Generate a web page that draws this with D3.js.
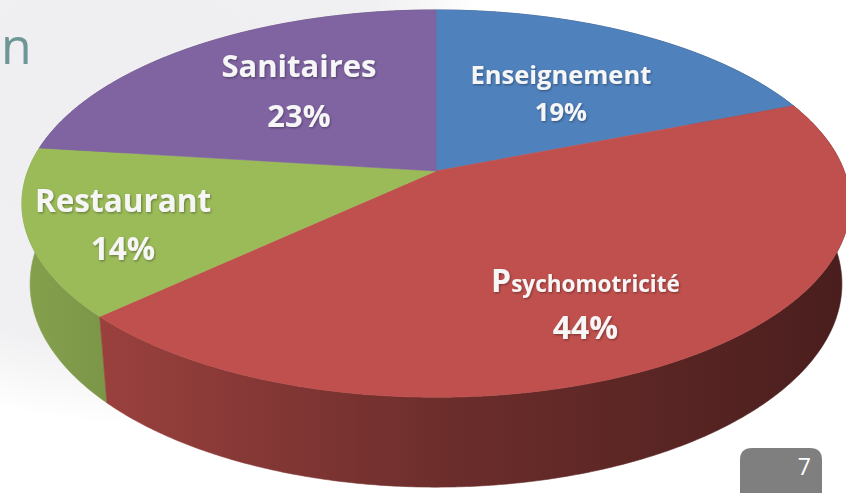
<!DOCTYPE html>
<html>
<head>
<meta charset="utf-8">
<script src="https://cdn.jsdelivr.net/npm/d3@7"></script>
<style>
  html, body { margin: 0; padding: 0; background: #fff; }
  svg { display: block; }
</style>
</head>
<body>
<svg id="chart" width="846" height="493"></svg>
<script>
(function () {
  "use strict";

  // chart data
  const categories = ["Enseignement", "Psychomotricité", "Restaurant", "Sanitaires"];
  const shares = [19, 44, 14, 23];
  const colors = ["#4F81BD", "#C0504D", "#9BBB59", "#8064A2"];
  const pageNumber = "7";

  const W = 846, H = 493;
  const svg = d3.select("#chart");
  const defs = svg.append("defs");

  // camera for the tilted disc
  const cam = { cx: 436, cy: 171, F: 2151, D: 5.27, tilt: Math.asin(0.461), thick: 0.2234 };
  const sinT = Math.sin(cam.tilt), cosT = Math.cos(cam.tilt);

  function proj(a, r, y) {
    const X = r * Math.sin(a), Z = -r * Math.cos(a);
    const depth = cam.D - (y * sinT + Z * cosT);
    return [cam.cx + cam.F * X / depth, cam.cy - cam.F * (y * cosT - Z * sinT) / depth];
  }

  // background: grey slide texture on the left
  const bgGrad = defs.append("radialGradient").attr("id", "bg-grey")
    .attr("gradientUnits", "userSpaceOnUse")
    .attr("cx", 120).attr("cy", 110).attr("r", 330)
    .attr("gradientTransform", "translate(120 110) scale(1.15 0.95) translate(-120 -110)");
  bgGrad.append("stop").attr("offset", 0).attr("stop-color", "#efeef0");
  bgGrad.append("stop").attr("offset", 0.75).attr("stop-color", "#f0eff1");
  bgGrad.append("stop").attr("offset", 1).attr("stop-color", "#ffffff");
  svg.append("rect").attr("width", W).attr("height", H).attr("fill", "#fff");
  svg.append("rect").attr("width", W).attr("height", H).attr("fill", "url(#bg-grey)");

  // partial title letter
  svg.append("text").attr("x", 1).attr("y", 64)
    .attr("font-family", "'Open Sans', sans-serif").attr("font-size", 50)
    .attr("fill", "#6e9697").text("n");

  const pie = d3.pie().sort(null).value((d) => d)(shares);
  const step = Math.PI / 360;
  function arcPts(a0, a1, y) {
    const n = Math.max(2, Math.ceil((a1 - a0) / step));
    return d3.range(n + 1).map((i) => proj(a0 + (a1 - a0) * i / n, 1, y));
  }
  const line = d3.line().curve(d3.curveLinearClosed);

  // side walls, dark gradient toward the right
  const wallStops = [[0, 0.86], [0.5, 0.57], [1, 0.38]];
  pie.forEach((p, i) => {
    const g = defs.append("linearGradient").attr("id", "wall-" + i)
      .attr("gradientUnits", "userSpaceOnUse")
      .attr("x1", 22).attr("x2", 850).attr("y1", 0).attr("y2", 0);
    const c = d3.rgb(colors[i]);
    wallStops.forEach(([o, k]) => {
      g.append("stop").attr("offset", o)
        .attr("stop-color", d3.rgb(c.r * k, c.g * k, c.b * k).formatHex());
    });
  });
  const walls = pie.map((p, i) => {
    const top = arcPts(p.startAngle, p.endAngle, 0);
    const bot = arcPts(p.startAngle, p.endAngle, -cam.thick).reverse();
    const mid = (p.startAngle + p.endAngle) / 2;
    return { i, pts: top.concat(bot), z: -Math.cos(mid) };
  }).sort((a, b) => a.z - b.z);
  svg.append("g").selectAll("path").data(walls).join("path")
    .attr("d", (d) => line(d.pts))
    .attr("fill", (d) => "url(#wall-" + d.i + ")")
    .attr("stroke", (d) => "url(#wall-" + d.i + ")")
    .attr("stroke-width", 0.6);

  // top face
  svg.append("g").selectAll("path").data(pie).join("path")
    .attr("d", (p) => line([proj(0, 0, 0)].concat(arcPts(p.startAngle, p.endAngle, 0))))
    .attr("fill", (p, i) => colors[i])
    .attr("stroke", (p, i) => colors[i])
    .attr("stroke-width", 0.6);

  // labels
  const shadow = defs.append("filter").attr("id", "tshadow")
    .attr("x", "-10%").attr("y", "-20%").attr("width", "130%").attr("height", "150%");
  shadow.append("feDropShadow").attr("dx", 1).attr("dy", 1.2).attr("stdDeviation", 0.8)
    .attr("flood-color", "#000").attr("flood-opacity", 0.35);

  const place = [
    { shift: 2.3, r: 0.553, fs: 25.5, nameDy: -9.5, pctDy: 27.5 },
    { shift: 5.0, r: 0.711, fs: 32, nameDy: -12, pctDy: 35, small: 22.5 },
    { shift: -2.2, r: 0.78, fs: 31.5, nameDy: -12.5, pctDy: 36 },
    { shift: 3.0, r: 0.582, fs: 31, nameDy: -14, pctDy: 36 },
  ];
  const lab = svg.append("g")
    .attr("font-family", "'Open Sans', sans-serif")
    .attr("font-weight", "bold")
    .attr("fill", "#f6f6f6")
    .attr("text-anchor", "middle")
    .attr("filter", "url(#tshadow)");
  pie.forEach((p, i) => {
    const pl = place[i];
    const a = (p.startAngle + p.endAngle) / 2 + pl.shift * Math.PI / 180;
    const [x, y] = proj(a, pl.r, 0);
    const name = lab.append("text").attr("x", x).attr("y", y + pl.nameDy).attr("font-size", pl.fs);
    if (pl.small) {
      name.append("tspan").text(categories[i].slice(0, 1));
      name.append("tspan").attr("font-size", pl.small).text(categories[i].slice(1));
    } else {
      name.text(categories[i]);
    }
    lab.append("text").attr("x", x).attr("y", y + pl.pctDy).attr("font-size", pl.fs)
      .text(shares[i] + "%");
  });

  // page number tab
  svg.append("path")
    .attr("d", "M740,493 V460 Q740,448 752,448 H810 Q822,448 822,460 V493 Z")
    .attr("fill", "#7f7f7f");
  svg.append("text").attr("x", 811).attr("y", 475).attr("text-anchor", "end")
    .attr("font-family", "'Open Sans', sans-serif").attr("font-size", 23)
    .attr("fill", "#fff").text(pageNumber);
})();
</script>
</body>
</html>
